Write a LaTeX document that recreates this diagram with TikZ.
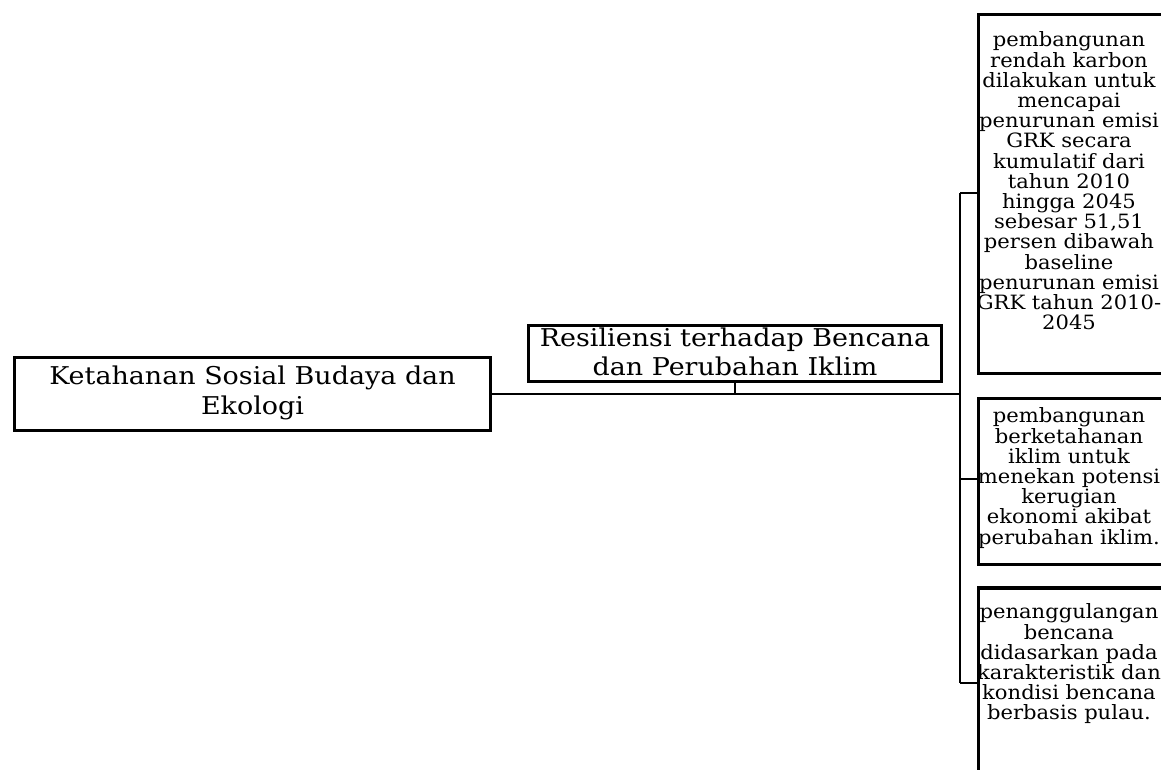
\documentclass[tikz,border=0pt]{standalone}
\usepackage{fontspec}
\setmainfont{DejaVu Serif}
\newfontfamily\widefont[FakeStretch=1.07]{DejaVu Serif}
\newfontfamily\midfont[FakeStretch=1.1]{DejaVu Serif}
\newcommand\bigfnt{\midfont\fontsize{24.5}{29.5}\selectfont\lineskiplimit -20pt\relax}
\newcommand\smallfnt{\widefont\fontsize{19.7}{20.2}\selectfont\lineskiplimit -20pt\relax}
\begin{document}
\begin{tikzpicture}[x=1pt,y=-1pt,
  boxstyle/.style={draw=black, line width=3.6pt, rectangle, inner sep=0pt, fill=white},
  bigtext/.style={align=center, font=\bigfnt, inner sep=0pt},
  smalltext/.style={align=center, font=\smallfnt, inner sep=0pt},
  conn/.style={draw=black, line width=2.4pt}]
\useasboundingbox (0,0) rectangle (1161,769);
\clip (0,0) rectangle (1161,769);
% boxes
\node[boxstyle, minimum width=476pt, minimum height=73pt] (A) at (252.5,394) {};
\node[boxstyle, minimum width=413pt, minimum height=56pt] (B) at (735,353.5) {};
\node[boxstyle, minimum width=187pt, minimum height=359pt] (C1) at (1072,194) {};
\node[boxstyle, minimum width=187pt, minimum height=166pt] (C2) at (1072,481.5) {};
\node[boxstyle, minimum width=187pt, minimum height=240pt] (C3) at (1072,708) {};
% texts
\node[bigtext] (At) at (252.5,393) {Ketahanan Sosial Budaya dan\\Ekologi};
\node[bigtext] (Bt) at (735,352) {Resiliensi terhadap Bencana\\dan Perubahan Iklim};
\node[smalltext] (C1t) at (1069,181) {pembangunan\\rendah karbon\\dilakukan untuk\\mencapai\\penurunan emisi\\GRK secara\\kumulatif dari\\tahun 2010\\hingga 2045\\sebesar 51,51\\persen dibawah\\baseline\\penurunan emisi\\GRK tahun 2010-\\2045};
\node[smalltext] (C2t) at (1069,478) {pembangunan\\berketahanan\\iklim untuk\\menekan potensi\\kerugian\\ekonomi akibat\\perubahan iklim.};
\node[smalltext] (C3t) at (1069,664) {penanggulangan\\bencana\\didasarkan pada\\karakteristik dan\\kondisi bencana\\berbasis pulau.};
% connectors
\coordinate (t1) at (960,193);
\coordinate (t2) at (960,479);
\coordinate (t3) at (960,683);
\coordinate (tm) at (960,394);
\draw[conn] (A.east) -- (tm);
\draw[conn] (B.south) -- (B.south |- A.east);
\draw[conn] (t1) -- (t3);
\draw[conn] (t1) -- (C1.west |- t1);
\draw[conn] (t2) -- (C2.west |- t2);
\draw[conn] (t3) -- (C3.west |- t3);
\end{tikzpicture}
\end{document}
